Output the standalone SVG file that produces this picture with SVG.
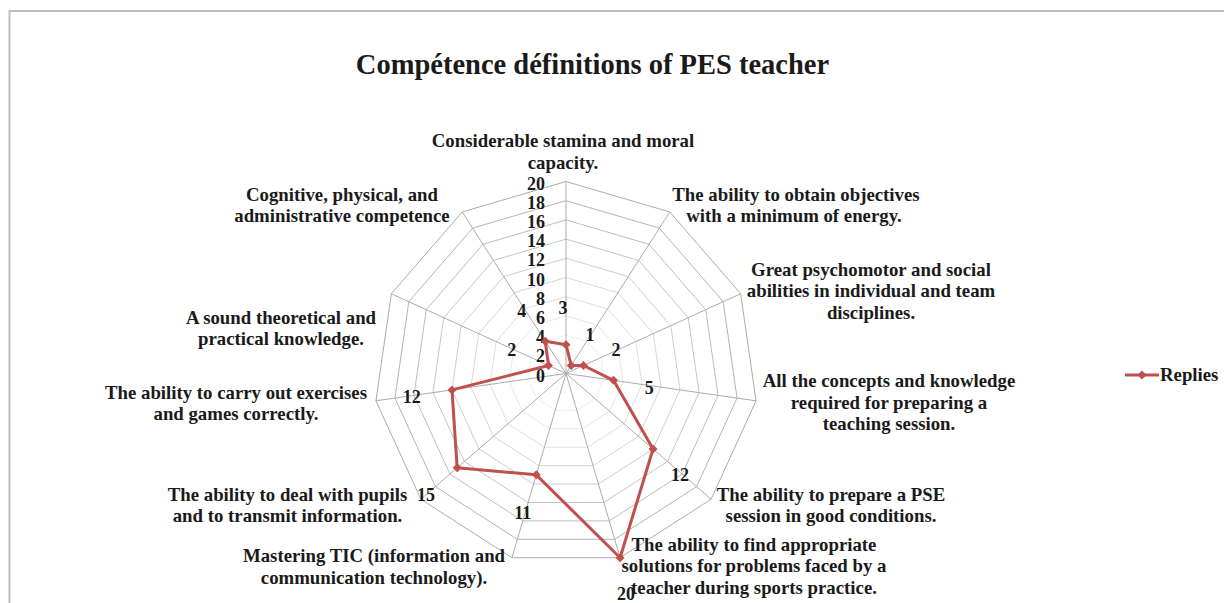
<svg xmlns="http://www.w3.org/2000/svg" xmlns:xlink="http://www.w3.org/1999/xlink" width="1224" height="603" viewBox="0 0 1224 603">
<style>
  .t{font-family:"Liberation Serif","Times New Roman",serif;font-weight:bold;fill:#1a1a1a}
  .cat{font-size:18.8px;text-anchor:middle}
  .num{font-size:18px}
  .tick{text-anchor:end}
  .dl{text-anchor:middle}
  .ring{fill:none;stroke:#acacac;stroke-width:1;vector-effect:non-scaling-stroke}
  .spoke{stroke:#acacac;stroke-width:1}
  .series{fill:none;stroke:#c0504d;stroke-width:3;stroke-linejoin:round}
  .mk{fill:#c0504d}
</style>
<defs>
  <polygon id="ring" points="0,-192 103.80,-161.52 174.65,-79.76 190.05,27.32 145.10,125.73 54.09,184.22 -54.09,184.22 -145.10,125.73 -190.05,27.32 -174.65,-79.76 -103.80,-161.52"/>
  <path id="dm" d="M0,-4.5 L4.5,0 L0,4.5 L-4.5,0 Z"/>
</defs>
<rect width="1224" height="603" fill="#ffffff"/>
<path d="M9.5,603 V11 H1224" fill="none" stroke="#bdbdbd" stroke-width="2"/>
<text class="t" x="592.5" y="74" font-size="28.5" text-anchor="middle">Compétence définitions of PES teacher</text>

<g id="grid" transform="translate(566 373.5)">
  <use xlink:href="#ring" class="ring" transform="scale(0.1)"/>
  <use xlink:href="#ring" class="ring" transform="scale(0.2)"/>
  <use xlink:href="#ring" class="ring" transform="scale(0.3)"/>
  <use xlink:href="#ring" class="ring" transform="scale(0.4)"/>
  <use xlink:href="#ring" class="ring" transform="scale(0.5)"/>
  <use xlink:href="#ring" class="ring" transform="scale(0.6)"/>
  <use xlink:href="#ring" class="ring" transform="scale(0.7)"/>
  <use xlink:href="#ring" class="ring" transform="scale(0.8)"/>
  <use xlink:href="#ring" class="ring" transform="scale(0.9)"/>
  <use xlink:href="#ring" class="ring"/>
  <g class="spoke">
    <line x1="0" y1="0" x2="0" y2="-192"/>
    <line x1="0" y1="0" x2="103.80" y2="-161.52"/>
    <line x1="0" y1="0" x2="174.65" y2="-79.76"/>
    <line x1="0" y1="0" x2="190.05" y2="27.32"/>
    <line x1="0" y1="0" x2="145.10" y2="125.73"/>
    <line x1="0" y1="0" x2="54.09" y2="184.22"/>
    <line x1="0" y1="0" x2="-54.09" y2="184.22"/>
    <line x1="0" y1="0" x2="-145.10" y2="125.73"/>
    <line x1="0" y1="0" x2="-190.05" y2="27.32"/>
    <line x1="0" y1="0" x2="-174.65" y2="-79.76"/>
    <line x1="0" y1="0" x2="-103.80" y2="-161.52"/>
  </g>
</g>

<g id="ticks" class="t num tick">
  <text x="545" y="381.5">0</text>
  <text x="545" y="362.3">2</text>
  <text x="545" y="343.1">4</text>
  <text x="545" y="323.9">6</text>
  <text x="545" y="304.7">8</text>
  <text x="545" y="285.5">10</text>
  <text x="545" y="266.3">12</text>
  <text x="545" y="247.1">14</text>
  <text x="545" y="227.9">16</text>
  <text x="545" y="208.7">18</text>
  <text x="545" y="189.5">20</text>
</g>

<g id="connectors">
  <polygon class="series" points="566,344.7 571.19,365.42 583.47,365.52 613.51,380.33 653.06,448.94 620.09,557.72 536.25,474.82 457.17,467.80 451.97,389.89 548.53,365.52 545.24,341.20"/>
  <g class="mk">
    <use xlink:href="#dm" x="566" y="344.7"/>
    <use xlink:href="#dm" x="571.19" y="365.42"/>
    <use xlink:href="#dm" x="583.47" y="365.52"/>
    <use xlink:href="#dm" x="613.51" y="380.33"/>
    <use xlink:href="#dm" x="653.06" y="448.94"/>
    <use xlink:href="#dm" x="620.09" y="557.72"/>
    <use xlink:href="#dm" x="536.25" y="474.82"/>
    <use xlink:href="#dm" x="457.17" y="467.80"/>
    <use xlink:href="#dm" x="451.97" y="389.89"/>
    <use xlink:href="#dm" x="548.53" y="365.52"/>
    <use xlink:href="#dm" x="545.24" y="341.20"/>
  </g>
</g>

<g id="data-labels" class="t num dl">
  <text x="563" y="314.3">3</text>
  <text x="590" y="341">1</text>
  <text x="616" y="356">2</text>
  <text x="649.3" y="394.3">5</text>
  <text x="680" y="481">12</text>
  <text x="626" y="600">20</text>
  <text x="522.7" y="519.3">11</text>
  <text x="426" y="501">15</text>
  <text x="411.7" y="403.3">12</text>
  <text x="511.7" y="356">2</text>
  <text x="521.7" y="316.7">4</text>
</g>

<g id="node-0" class="t cat"><text x="563" y="147.2">Considerable stamina and moral<tspan x="563" dy="21.6">capacity.</tspan></text></g>
<g id="node-1" class="t cat"><text x="796" y="200.5">The ability to obtain objectives<tspan x="794" dy="21.6">with a minimum of energy.</tspan></text></g>
<g id="node-2" class="t cat"><text x="871" y="275.5">Great psychomotor and social<tspan x="871" dy="21.6">abilities in individual and team</tspan><tspan x="871" dy="21.6">disciplines.</tspan></text></g>
<g id="node-3" class="t cat"><text x="889" y="387.2">All the concepts and knowledge<tspan x="889" dy="21.6">required for preparing a</tspan><tspan x="889" dy="21.6">teaching session.</tspan></text></g>
<g id="node-4" class="t cat"><text x="831" y="500.5">The ability to prepare a PSE<tspan x="831" dy="21.6">session in good conditions.</tspan></text></g>
<g id="node-5" class="t cat"><text x="754" y="550.5">The ability to find appropriate<tspan x="754" dy="21.6">solutions for problems faced by a</tspan><tspan x="754" dy="21.6">teacher during sports practice.</tspan></text></g>
<g id="node-6" class="t cat"><text x="374" y="562.2">Mastering TIC (information and<tspan x="374" dy="21.6">communication technology).</tspan></text></g>
<g id="node-7" class="t cat"><text x="287.5" y="500.5">The ability to deal with pupils<tspan x="287.5" dy="21.6">and to transmit information.</tspan></text></g>
<g id="node-8" class="t cat"><text x="236" y="398.8">The ability to carry out exercises<tspan x="236" dy="21.6">and games correctly.</tspan></text></g>
<g id="node-9" class="t cat"><text x="281" y="323.8">A sound theoretical and<tspan x="281" dy="21.6">practical knowledge.</tspan></text></g>
<g id="node-10" class="t cat"><text x="342" y="200.5">Cognitive, physical, and<tspan x="342" dy="21.6">administrative competence</tspan></text></g>

<g id="legend">
  <line x1="1125" y1="375" x2="1159" y2="375" stroke="#c0504d" stroke-width="3"/>
  <use xlink:href="#dm" x="1142" y="375" class="mk"/>
  <text class="t" x="1160" y="381" font-size="18.8">Replies</text>
</g>
</svg>
